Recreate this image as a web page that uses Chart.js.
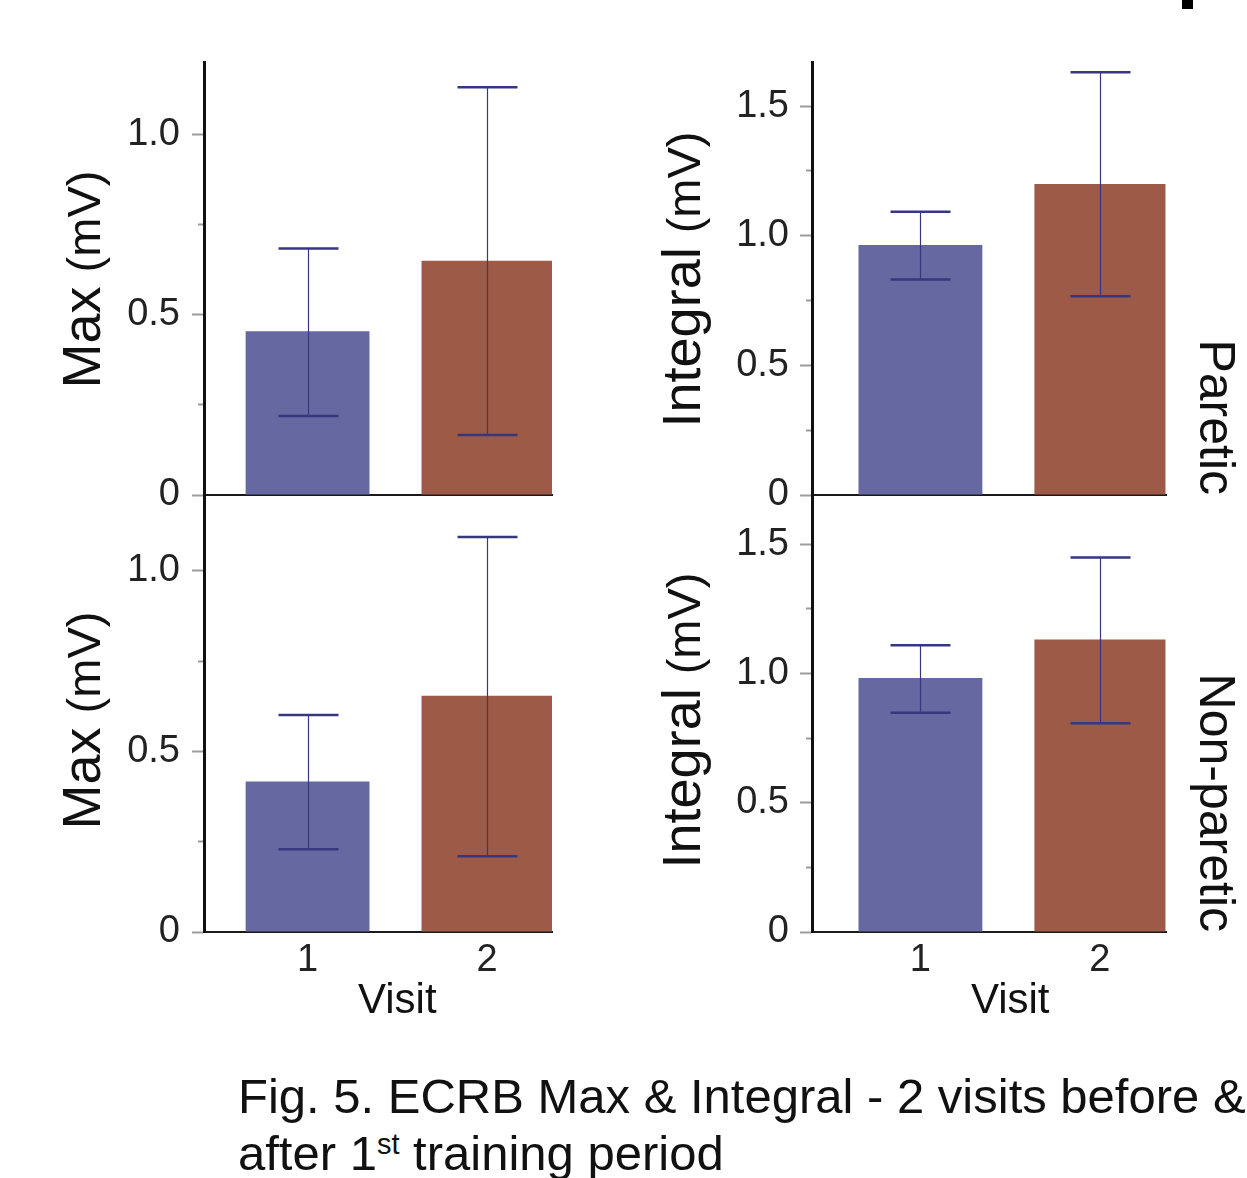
<!DOCTYPE html>
<html>
<head>
<meta charset="utf-8">
<script src="https://cdn.jsdelivr.net/npm/chart.js@4.4.1/dist/chart.umd.min.js"></script>
<style>
  html, body { margin: 0; padding: 0; background: #fff; }
  body { width: 1247px; height: 1178px; position: relative; overflow: hidden;
         font-family: 'Liberation Sans', Arial, sans-serif; }
  canvas { position: absolute; }
  #maxParetic { left: 0; top: 0; }
  #intParetic { left: 620px; top: 0; }
  #maxNonParetic { left: 0; top: 455px; }
  #intNonParetic { left: 620px; top: 455px; }
  .caption { position: absolute; left: 238px; top: 1068px; font-size: 49px; line-height: 57px;
             color: #111; white-space: nowrap; }
  .caption .sup { font-size: 29px; position: relative; top: -16px; }
  .mark { position: absolute; left: 1182px; top: 0; width: 11px; height: 9px; background: #000; }
</style>
</head>
<body>
<div class="mark"></div>
<canvas id="maxParetic" width="620" height="535"></canvas>
<canvas id="intParetic" width="627" height="535"></canvas>
<canvas id="maxNonParetic" width="620" height="585"></canvas>
<canvas id="intNonParetic" width="627" height="585"></canvas>
<div class="caption">Fig. 5. ECRB Max &amp; Integral - 2 visits before &amp;<br>after 1<span class="sup">st</span> training period</div>

<script>
const FONT = "'Liberation Sans', Arial, sans-serif";

// data (mean, lower and upper end of the error bar)
const visits = [1, 2];

const maxParetic = [0.454, 0.649];
const maxPareticLow = [0.219, 0.166];
const maxPareticHigh = [0.683, 1.130];

const intParetic = [0.964, 1.199];
const intPareticLow = [0.831, 0.767];
const intPareticHigh = [1.092, 1.630];

const maxNonParetic = [0.417, 0.654];
const maxNonPareticLow = [0.229, 0.210];
const maxNonPareticHigh = [0.601, 1.094];

const intNonParetic = [0.982, 1.131];
const intNonPareticLow = [0.848, 0.807];
const intNonPareticHigh = [1.109, 1.448];

const barColors = ['#6668a2', '#9d5a47'];
const barWidths = [0.69, 0.73];

// error bars, positioned with the chart's own scales
const errorBars = {
  id: 'errorBars',
  afterDatasetsDraw(chart) {
    const { ctx, scales: { y } } = chart;
    ctx.save();
    ctx.strokeStyle = '#37377f';
    chart.data.datasets.forEach((ds, i) => {
      chart.getDatasetMeta(i).data.forEach((bar, j) => {
        const top = y.getPixelForValue(ds.errHigh[j]);
        const bottom = y.getPixelForValue(ds.errLow[j]);
        const x = Math.round(bar.x) + 0.5;
        ctx.lineWidth = 1.2;
        ctx.beginPath();
        ctx.moveTo(x, top);
        ctx.lineTo(x, bottom);
        ctx.stroke();
        ctx.lineWidth = 2.5;
        ctx.beginPath();
        ctx.moveTo(x - 30, top);
        ctx.lineTo(x + 30, top);
        ctx.moveTo(x - 30, bottom);
        ctx.lineTo(x + 30, bottom);
        ctx.stroke();
      });
    });
    ctx.restore();
  }
};

// axis titles: big word + smaller unit, "Visit" and the side label
const panelText = {
  id: 'panelText',
  afterDraw(chart, args, opts) {
    const { ctx, chartArea: a } = chart;
    const big = `54px ${FONT}`;
    const small = `47px ${FONT}`;

    ctx.save();
    ctx.fillStyle = '#111';
    ctx.textBaseline = 'alphabetic';
    ctx.textAlign = 'left';
    ctx.translate(a.left + opts.titleDx, (a.top + a.bottom) / 2 + opts.titleDy);
    ctx.rotate(-Math.PI / 2);
    ctx.font = big;
    const wBig = ctx.measureText(opts.name).width;
    ctx.font = small;
    const wSmall = ctx.measureText(opts.unit).width;
    const gap = 14;
    const x0 = -(wBig + gap + wSmall) / 2;
    ctx.font = big;
    ctx.fillText(opts.name, x0, 0);
    ctx.font = small;
    ctx.fillText(opts.unit, x0 + wBig + gap, 0);
    ctx.restore();

    if (opts.side) {
      ctx.save();
      ctx.fillStyle = '#111';
      ctx.font = `50px ${FONT}`;
      ctx.textAlign = 'right';
      ctx.textBaseline = 'alphabetic';
      ctx.translate(a.right + 34, a.bottom);
      ctx.rotate(Math.PI / 2);
      ctx.fillText(opts.side, 0, 0);
      ctx.restore();
    }

    if (opts.xTitle) {
      const x = chart.scales.x.getPixelForValue((visits[0] + visits[1]) / 2);
      ctx.save();
      ctx.fillStyle = '#111';
      ctx.font = `42px ${FONT}`;
      ctx.textAlign = 'center';
      ctx.textBaseline = 'alphabetic';
      ctx.fillText(opts.xTitle, x, a.bottom + 81);
      ctx.restore();
    }
  }
};

function yLabel(v) {
  if (v === 0) return '0';
  return v % 0.5 === 0 ? v.toFixed(1) : '';
}

function panel(id, p) {
  const datasets = visits.map((v, i) => ({
    label: 'Visit ' + v,
    data: [{ x: v, y: p.mean[i] }],
    errLow: [p.low[i]],
    errHigh: [p.high[i]],
    backgroundColor: barColors[i],
    borderWidth: 0,
    barPercentage: barWidths[i],
    categoryPercentage: 1,
    grouped: false
  }));

  new Chart(document.getElementById(id), {
    type: 'bar',
    data: { datasets },
    options: {
      responsive: false,
      animation: false,
      devicePixelRatio: 1,
      layout: { padding: { top: p.padTop, right: p.padRight, left: 0, bottom: 0 } },
      plugins: {
        legend: { display: false },
        tooltip: { enabled: false },
        panelText: {
          name: p.name, unit: '(mV)', titleDx: p.titleDx, titleDy: p.titleDy,
          side: p.side, xTitle: p.xTitle
        }
      },
      scales: {
        x: {
          type: 'linear',
          min: p.xMin,
          max: p.xMax,
          offset: false,
          z: 1,
          border: { color: '#1a1a1a', width: 2 },
          grid: { display: false },
          ticks: {
            display: p.showX,
            color: '#222',
            padding: -2,
            maxRotation: 0,
            autoSkip: false,
            font: { family: FONT, size: 38 },
            callback: v => String(v)
          },
          afterBuildTicks: s => { s.ticks = visits.map(v => ({ value: v })); },
          afterFit: s => { s.height = p.xHeight; }
        },
        y: {
          min: 0,
          max: p.yMax,
          z: 1,
          border: { color: '#111', width: 3 },
          grid: {
            drawOnChartArea: false,
            tickLength: 12,
            tickWidth: 2,
            tickColor: '#9c9c9c',
            tickBorderDash: c => (c.tick && c.tick.value % 0.5 === 0) ? [] : [0, 6, 6, 50]
          },
          ticks: {
            stepSize: 0.25,
            includeBounds: false,
            padding: p.tickPad,
            color: '#222',
            font: { family: FONT, size: 38 },
            callback: yLabel
          },
          afterFit: s => { s.width = p.yWidth; }
        }
      }
    },
    plugins: [errorBars, panelText]
  });
}

panel('maxParetic', {
  mean: maxParetic, low: maxPareticLow, high: maxPareticHigh,
  name: 'Max', yMax: 1.2, xMin: 0.423, xMax: 2.362,
  padTop: 62, padRight: 68, yWidth: 204, xHeight: 40, showX: false,
  tickPad: 12, titleDx: -104, titleDy: 1
});

panel('intParetic', {
  mean: intParetic, low: intPareticLow, high: intPareticHigh,
  name: 'Integral', yMax: 1.67, xMin: 0.396, xMax: 2.368,
  padTop: 62, padRight: 81, yWidth: 192, xHeight: 40, showX: false,
  tickPad: 11, titleDx: -112, titleDy: 1, side: 'Paretic'
});

panel('maxNonParetic', {
  mean: maxNonParetic, low: maxNonPareticLow, high: maxNonPareticHigh,
  name: 'Max', yMax: 1.21, xMin: 0.423, xMax: 2.362,
  padTop: 40, padRight: 68, yWidth: 204, xHeight: 108, showX: true,
  tickPad: 12, titleDx: -104, titleDy: 7, xTitle: 'Visit'
});

panel('intNonParetic', {
  mean: intNonParetic, low: intNonPareticLow, high: intNonPareticHigh,
  name: 'Integral', yMax: 1.69, xMin: 0.396, xMax: 2.368,
  padTop: 40, padRight: 81, yWidth: 192, xHeight: 108, showX: true,
  tickPad: 11, titleDx: -112, titleDy: 7, side: 'Non-paretic', xTitle: 'Visit'
});
</script>
</body>
</html>
